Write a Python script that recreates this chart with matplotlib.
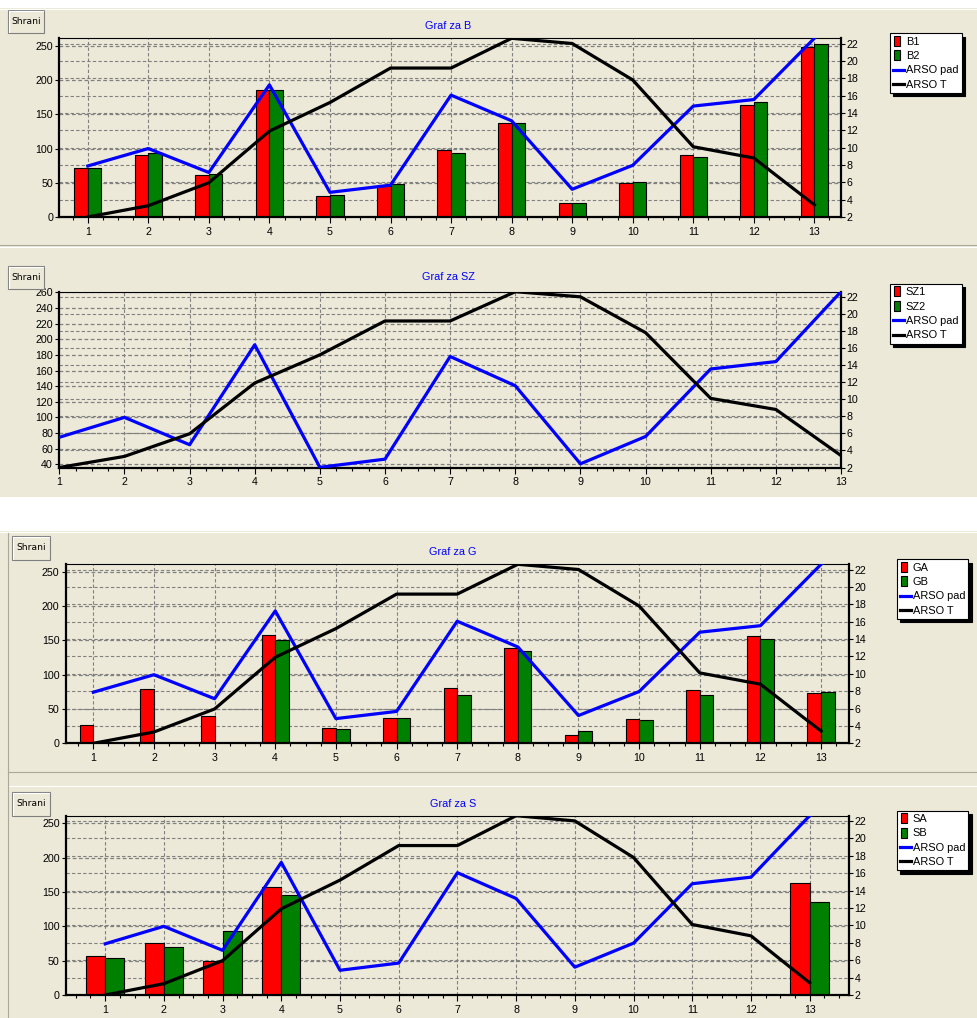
import numpy as np
import matplotlib
matplotlib.use('Agg')
import matplotlib.pyplot as plt
from matplotlib.patches import Rectangle, Patch
from matplotlib.lines import Line2D
from matplotlib.legend_handler import HandlerPatch
from matplotlib.ticker import AutoMinorLocator

W, H = 978, 1018
BEIGE = '#ECE9D8'
GRID = '#808080'
RED = '#FF0000'
GREEN = '#008000'
BLUE = '#0000FF'

# data (x = 1..13)
months = np.arange(1, 14)
arso_pad = [74.5, 100, 65, 193, 36, 46.5, 178, 140.5, 40.5, 75.5, 162, 171.5, 261]
arso_t = [2.0, 3.3, 5.95, 11.9, 15.2, 19.17, 19.17, 22.6, 22.0, 17.8, 10.1, 8.8, 3.4]

b1 = [71, 91, 62, 186, 30, 45, 98, 138, 20, 50, 90, 164, 248]
b2 = [71, 93, 63, 186, 32, 48, 94, 138, 20, 51, 87, 168, 252]

sz1 = [np.nan] * 13
sz2 = [np.nan] * 13

ga = [27, 79, 40, 158, 22, 37, 81, 139, 12, 36, 77, 157, 74]
gb = [np.nan, np.nan, np.nan, 151, 21, 37, 70, 135, 18, 34, 70, 152, 75]

nn = np.nan
sa = [57, 76, 49, 157, nn, nn, nn, nn, nn, nn, nn, nn, 163]
sb = [54, 70, 93, 146, nn, nn, nn, nn, nn, nn, nn, nn, 136]

T_LIM = (2.0, 22.6)

plt.rcParams['font.family'] = ['Liberation Sans', 'DejaVu Sans']
plt.rcParams['font.size'] = 7.7

fig = plt.figure(figsize=(W / 100, H / 100), dpi=100, facecolor='white')


def fx(x):
    return x / W


def fy(y):
    return 1 - y / H


def hline(y, x0, x1, color):
    fig.add_artist(Line2D([fx(x0), fx(x1)], [fy(y), fy(y)], color=color,
                          lw=0.8, transform=fig.transFigure))


def vline(x, y0, y1, color):
    fig.add_artist(Line2D([fx(x), fx(x)], [fy(y0), fy(y1)], color=color,
                          lw=0.8, transform=fig.transFigure))


# window backgrounds
for top, bot in [(8, 497), (531, 1018)]:
    fig.add_artist(Rectangle((0, fy(bot)), 1, (bot - top) / H, facecolor=BEIGE,
                             edgecolor='none', transform=fig.transFigure, zorder=-10))
hline(9, 0, 978, 'white')
hline(245, 0, 978, '#ACA899')
hline(246.5, 0, 978, 'white')
hline(532, 0, 978, 'white')
hline(772, 8, 978, '#ACA899')
hline(786, 8, 978, 'white')
vline(8, 533, 1018, '#ACA899')


def button(x, y, w, h):
    fig.add_artist(Rectangle((fx(x), fy(y + h)), w / W, h / H, facecolor=BEIGE,
                             edgecolor='#7F7F7F', lw=0.8, transform=fig.transFigure))
    hline(y + 1, x + 1, x + w - 1, 'white')
    vline(x + 1, y + 1, y + h - 1, 'white')
    fig.text(fx(x + w / 2), fy(y + h / 2), 'Shrani', ha='center', va='center',
             fontsize=6.6, family='DejaVu Sans', color='black')


def narrow_box(legend, orig_handle, xdescent, ydescent, width, height, fontsize):
    return Rectangle((-xdescent + 0.1 * width, -ydescent - 0.15 * height),
                     0.5 * width, 1.3 * height)


def draw_panel(box, xlim, ylim_l, ticks_l, s1, s2, names, bar_w, title, title_xy, leg_xy):
    l, t, r, b = box
    axR = fig.add_axes([fx(l), fy(b), (r - l) / W, (b - t) / H])
    axL = axR.twinx()
    axR.yaxis.tick_right()
    axL.yaxis.tick_left()
    axR.set_facecolor(BEIGE)
    axR.set_xlim(*xlim)
    axR.set_ylim(*T_LIM)
    axL.set_ylim(*ylim_l)

    # grids: right-axis (temperature) and x on the lower axes, left-axis grid on top axes
    axR.set_yticks(np.arange(2, 23, 2))
    axR.set_xticks(months)
    axR.xaxis.set_minor_locator(AutoMinorLocator(4))
    axR.grid(True, which='major', color=GRID, linestyle=(0, (3, 2)), lw=0.8)
    axL.set_yticks(ticks_l)
    axL.set_axisbelow(True)
    axL.grid(True, axis='y', color=GRID, linestyle=(0, (3, 2)), lw=0.9)

    # bars
    s1 = np.asarray(s1, dtype=float)
    s2 = np.asarray(s2, dtype=float)
    m1 = ~np.isnan(s1)
    m2 = ~np.isnan(s2)
    axL.bar(months[m1] - bar_w / 2, s1[m1], width=bar_w, color=RED,
            edgecolor='black', lw=0.8, zorder=2)
    axL.bar(months[m2] + bar_w / 2, s2[m2], width=bar_w, color=GREEN,
            edgecolor='black', lw=0.8, zorder=2)

    # lines
    axL.plot(months, arso_pad, color=BLUE, lw=2.3, zorder=3)
    axL.plot(months, arso_t, color='black', lw=2.3, zorder=4,
             transform=axR.transData)

    # spines / ticks
    for sp in axR.spines.values():
        sp.set_visible(False)
    for name, sp in axL.spines.items():
        sp.set_color('black')
        sp.set_linewidth(0.8 if name == 'top' else 1.6)
    axR.tick_params(axis='x', which='major', length=4, width=0.8, pad=3,
                    labelsize=7.7, colors='black')
    axR.tick_params(axis='x', which='minor', length=2, width=0.8)
    axR.tick_params(axis='y', length=3, width=0.8, pad=1, labelsize=7.7,
                    left=False, right=True, labelleft=False, labelright=True)
    axL.tick_params(axis='y', length=3, width=0.8, pad=1.5, labelsize=7.7,
                    left=True, right=False, labelleft=True, labelright=False)

    fig.text(fx(title_xy[0]), fy(title_xy[1]), title, ha='center', va='center',
             color=BLUE, fontsize=7.8)

    handles = [Patch(facecolor=RED, edgecolor='black', lw=0.8),
               Patch(facecolor=GREEN, edgecolor='black', lw=0.8),
               Line2D([], [], color=BLUE, lw=2.3),
               Line2D([], [], color='black', lw=2.3)]
    leg = axL.legend(handles, names + ['ARSO pad', 'ARSO T'], loc='upper left',
                     bbox_to_anchor=(fx(leg_xy[0]), fy(leg_xy[1])),
                     bbox_transform=fig.transFigure, fancybox=False, framealpha=1,
                     edgecolor='black', facecolor='white', fontsize=7.9,
                     borderpad=0.3, labelspacing=0.4, handlelength=1.0,
                     handleheight=0.7, handletextpad=0.15, borderaxespad=0,
                     shadow={'ox': 2.4, 'oy': -2.4, 'facecolor': 'black',
                             'edgecolor': 'black', 'alpha': 1},
                     handler_map={Patch: HandlerPatch(patch_func=narrow_box)})
    leg.get_frame().set_linewidth(0.8)
    return axL, axR


button(8, 10, 36, 23)
button(8, 266, 36, 23)
button(12, 536, 38, 24)
button(12, 792, 38, 24)

draw_panel((59.3, 38.3, 841, 217), (0.53, 13.44), (0, 261), np.arange(0, 251, 50),
           b1, b2, ['B1', 'B2'], 0.225, 'Graf za B', (448, 26), (890, 33.3))
draw_panel((59.3, 291.7, 841, 467.5), (1, 13), (35.8, 261), np.arange(40, 261, 20),
           sz1, sz2, ['SZ1', 'SZ2'], 0.225, 'Graf za SZ', (448, 277), (890, 284))
draw_panel((65.7, 564.3, 849, 743.3), (0.545, 13.46), (0, 261), np.arange(0, 251, 50),
           ga, gb, ['GA', 'GB'], 0.225, 'Graf za G', (453, 552), (896.7, 559.3))
draw_panel((66, 815.7, 849, 995), (0.333, 13.67), (0, 261), np.arange(0, 251, 50),
           sa, sb, ['SA', 'SB'], 0.327, 'Graf za S', (453, 804), (896.7, 810.7))

fig.savefig('out.png', dpi=100, facecolor=fig.get_facecolor())
